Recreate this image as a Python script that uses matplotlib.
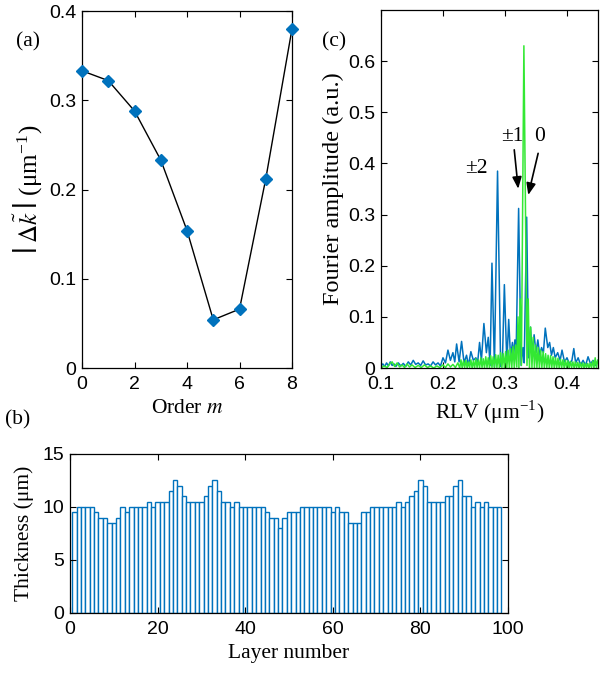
import matplotlib
matplotlib.use("Agg")
import matplotlib.pyplot as plt
import numpy as np

plt.rcParams["font.family"] = ["Liberation Sans", "DejaVu Sans"]
plt.rcParams["mathtext.fontset"] = "stix"

# (a) phase mismatch vs order
orders = [0, 1, 2, 3, 4, 5, 6, 7, 8]
dk = [0.333, 0.322, 0.288, 0.233, 0.154, 0.054, 0.066, 0.212, 0.380]

# (b) layer thickness profile (layers 1..98)
thickness = [
    9.5, 10, 10, 10, 10, 9.5, 9, 9, 8.5, 8.5,
    9, 10, 9.5, 10, 10, 10, 10, 10.5, 10, 10.5,
    10.5, 10.5, 11.5, 12.5, 12, 11, 10.5, 10.5, 10.5, 10.5,
    11, 12, 12.5, 11.5, 10.5, 10.5, 10, 10.5, 10, 10,
    10, 10, 10, 10, 9.5, 9, 9, 8, 9, 9.5,
    9.5, 9.5, 10, 10, 10, 10, 10, 10, 10, 9.5,
    10, 9.5, 9.5, 8.5, 8.5, 8.5, 9.5, 9.5, 10, 10,
    10, 10, 10, 10, 10.5, 10, 10.5, 11, 11.5, 12.5,
    12, 10.5, 10.5, 10.5, 10.5, 11, 11, 12, 12.5, 11,
    11, 10, 10.5, 10, 10.5, 10, 10, 10,
]
layers = list(range(1, len(thickness) + 1))

# (c) Fourier amplitude spectra
rlv_blue = [
    0.100, 0.103, 0.106, 0.109, 0.112, 0.115, 0.118, 0.121, 0.124, 0.128,
    0.132, 0.136, 0.140, 0.144, 0.148, 0.152, 0.156, 0.160, 0.164, 0.168,
    0.172, 0.176, 0.180, 0.184, 0.188, 0.192, 0.196, 0.200, 0.204, 0.208,
    0.212, 0.216, 0.219, 0.222, 0.226, 0.230, 0.234, 0.238, 0.241, 0.245,
    0.249, 0.253, 0.256, 0.259, 0.262, 0.266, 0.270, 0.273, 0.276, 0.279,
    0.283, 0.288, 0.293, 0.296, 0.299, 0.303, 0.306, 0.309, 0.312, 0.314,
    0.316, 0.318, 0.322, 0.326, 0.329, 0.331, 0.335, 0.338, 0.341, 0.344,
    0.347, 0.350, 0.353, 0.356, 0.359, 0.362, 0.365, 0.369, 0.372, 0.375,
    0.378, 0.381, 0.385, 0.389, 0.392, 0.396, 0.400, 0.404, 0.408, 0.411,
    0.414, 0.418, 0.422, 0.426, 0.430, 0.434, 0.438, 0.442, 0.446, 0.450,
]
amp_blue = [
    0.004, 0.008, 0.003, 0.010, 0.004, 0.012, 0.005, 0.008, 0.003, 0.010,
    0.004, 0.009, 0.003, 0.012, 0.006, 0.015, 0.007, 0.010, 0.005, 0.014,
    0.006, 0.008, 0.004, 0.012, 0.006, 0.010, 0.004, 0.020, 0.010, 0.035,
    0.015, 0.030, 0.012, 0.047, 0.012, 0.052, 0.010, 0.025, 0.005, 0.032,
    0.015, 0.020, 0.012, 0.050, 0.015, 0.087, 0.030, 0.060, 0.005, 0.205,
    0.002, 0.385, 0.003, 0.020, 0.163, 0.010, 0.095, 0.020, 0.050, 0.025,
    0.055, 0.030, 0.312, 0.005, 0.040, 0.010, 0.295, 0.020, 0.080, 0.030,
    0.065, 0.030, 0.055, 0.025, 0.040, 0.030, 0.078, 0.040, 0.050, 0.025,
    0.040, 0.020, 0.030, 0.015, 0.035, 0.012, 0.020, 0.008, 0.015, 0.038,
    0.010, 0.020, 0.006, 0.015, 0.005, 0.022, 0.008, 0.015, 0.005, 0.015,
]
rlv_green = [
    0.100, 0.105, 0.110, 0.114, 0.118, 0.122, 0.126, 0.130, 0.134, 0.138,
    0.142, 0.146, 0.150, 0.155, 0.160, 0.165, 0.170, 0.175, 0.180, 0.185,
    0.190, 0.195, 0.200, 0.204, 0.208, 0.212, 0.216, 0.220, 0.224, 0.227,
    0.229, 0.231, 0.233, 0.235, 0.237, 0.239, 0.241, 0.243, 0.245, 0.247,
    0.249, 0.251, 0.253, 0.255, 0.257, 0.259, 0.261, 0.263, 0.265, 0.267,
    0.269, 0.271, 0.273, 0.275, 0.277, 0.279, 0.281, 0.283, 0.285, 0.287,
    0.289, 0.291, 0.293, 0.295, 0.297, 0.299, 0.301, 0.303, 0.305, 0.307,
    0.309, 0.311, 0.313, 0.315, 0.317, 0.319, 0.321, 0.3225, 0.3245, 0.3265,
    0.3305, 0.3355, 0.3375, 0.3395, 0.3415, 0.3435, 0.3455, 0.3475, 0.3495, 0.3515,
    0.3535, 0.3555, 0.3575, 0.3595, 0.3615, 0.3635, 0.3655, 0.3675, 0.3695, 0.3715,
    0.3735, 0.3755, 0.3775, 0.3795, 0.3815, 0.3835, 0.3855, 0.3875, 0.3895, 0.3915,
    0.3935, 0.3955, 0.3975, 0.3995, 0.4015, 0.4035, 0.4055, 0.4075, 0.4095, 0.4115,
    0.4135, 0.4155, 0.4175, 0.4195, 0.4215, 0.4235, 0.4255, 0.4275, 0.4295, 0.4315,
    0.4335, 0.4355, 0.4375, 0.4395, 0.4415, 0.4435, 0.4455, 0.4475, 0.4495,
]
amp_green = [
    0.000, 0.004, 0.001, 0.008, 0.012, 0.003, 0.010, 0.002, 0.006, 0.001,
    0.008, 0.002, 0.006, 0.001, 0.005, 0.001, 0.006, 0.001, 0.004, 0.000,
    0.004, 0.001, 0.006, 0.001, 0.008, 0.002, 0.007, 0.001, 0.010, 0.000,
    0.016, 0.000, 0.014, 0.001, 0.015, 0.000, 0.012, 0.001, 0.016, 0.000,
    0.014, 0.000, 0.018, 0.001, 0.016, 0.000, 0.020, 0.001, 0.018, 0.000,
    0.022, 0.001, 0.020, 0.000, 0.024, 0.001, 0.022, 0.000, 0.026, 0.001,
    0.025, 0.000, 0.030, 0.001, 0.028, 0.000, 0.032, 0.001, 0.035, 0.000,
    0.038, 0.001, 0.042, 0.000, 0.045, 0.002, 0.100, 0.000, 0.135, 0.005,
    0.630, 0.005, 0.135, 0.000, 0.080, 0.001, 0.060, 0.000, 0.045, 0.001,
    0.040, 0.000, 0.035, 0.001, 0.032, 0.000, 0.028, 0.001, 0.025, 0.000,
    0.024, 0.001, 0.022, 0.000, 0.020, 0.001, 0.019, 0.000, 0.017, 0.001,
    0.016, 0.000, 0.015, 0.001, 0.014, 0.000, 0.013, 0.001, 0.012, 0.000,
    0.012, 0.001, 0.011, 0.000, 0.010, 0.001, 0.010, 0.000, 0.009, 0.001,
    0.009, 0.000, 0.010, 0.001, 0.014, 0.000, 0.020, 0.001, 0.015,
]

BLUE = "#0072BD"
GREEN = "#33e833"
serif = ["Liberation Serif", "DejaVu Serif"]
LAB = 15.5
TICK = 14

fig = plt.figure(figsize=(6.14, 6.75), dpi=100)
ax_a = fig.add_axes([0.1336, 0.4548, 0.342, 0.5289])
ax_c = fig.add_axes([0.6205, 0.4548, 0.3534, 0.5304])
ax_b = fig.add_axes([0.114, 0.0919, 0.7134, 0.2356])


def style(ax):
    ax.tick_params(direction="in", top=True, right=True, length=4,
                   width=0.8, labelsize=TICK)
    ax.tick_params(axis="x", pad=6)
    ax.tick_params(axis="y", pad=4)
    for s in ax.spines.values():
        s.set_linewidth(0.9)


# (a)
ax_a.plot(orders, dk, color="black", lw=1.0, zorder=2)
ax_a.plot(orders, dk, ls="none", marker="D", ms=6.5, color=BLUE, zorder=3, clip_on=False)
ax_a.set_xlim(0, 8)
ax_a.set_ylim(0, 0.4)
ax_a.set_xticks([0, 2, 4, 6, 8])
ax_a.set_yticks([0, 0.1, 0.2, 0.3, 0.4])
ax_a.set_yticklabels(["0", "0.1", "0.2", "0.3", "0.4"])
ax_a.set_xlabel(r"Order $m$", family=serif, fontsize=LAB, labelpad=4)
ax_a.set_ylabel(r"$\left|\;\Delta\tilde{k}\;\right|$ (μm$^{\mathregular{-1}}$)",
                family=serif, fontsize=18, labelpad=4)
style(ax_a)

# (c)
ax_c.plot(rlv_blue, amp_blue, color=BLUE, lw=1.1)
ax_c.plot(rlv_green, amp_green, color=GREEN, lw=1.1)
ax_c.set_xlim(0.1, 0.45)
ax_c.set_ylim(0, 0.7)
ax_c.set_xticks([0.1, 0.2, 0.3, 0.4])
ax_c.set_xticklabels(["0.1", "0.2", "0.3", "0.4"])
ax_c.set_yticks([0, 0.1, 0.2, 0.3, 0.4, 0.5, 0.6])
ax_c.set_yticklabels(["0", "0.1", "0.2", "0.3", "0.4", "0.5", "0.6"])
ax_c.set_xlabel(r"RLV (μm$^{\mathregular{-1}}$)", family=serif, fontsize=LAB, labelpad=4)
ax_c.set_ylabel("Fourier amplitude (a.u.)", family=serif, fontsize=17.5, labelpad=3)
ax_c.text(0.2535, 0.391, "±2", family=serif, fontsize=LAB, ha="center", va="center")
ax_c.text(0.3116, 0.453, "±1", family=serif, fontsize=LAB, ha="center", va="center")
ax_c.text(0.3558, 0.453, "0", family=serif, fontsize=LAB, ha="center", va="center")
arrow = dict(arrowstyle="-|>,head_length=0.7,head_width=0.28", color="black", lw=1.2)
ax_c.annotate("", xy=(0.3218, 0.345), xytext=(0.3145, 0.432), arrowprops=arrow)
ax_c.annotate("", xy=(0.3365, 0.333), xytext=(0.3545, 0.425), arrowprops=arrow)
style(ax_c)

# (b)
ax_b.bar(layers, thickness, width=1.0, facecolor="white", edgecolor=BLUE, linewidth=1.0)
ax_b.set_xlim(0, 100)
ax_b.set_ylim(0, 15)
ax_b.set_xticks([0, 20, 40, 60, 80, 100])
ax_b.set_yticks([0, 5, 10, 15])
ax_b.set_xlabel("Layer number", family=serif, fontsize=LAB, labelpad=4)
ax_b.set_ylabel("Thickness (μm)", family=serif, fontsize=LAB, labelpad=6)
style(ax_b)

fig.text(28 / 614, 1 - 42 / 675, "(a)", family=serif, fontsize=LAB, ha="center", va="center")
fig.text(334 / 614, 1 - 42 / 675, "(c)", family=serif, fontsize=LAB, ha="center", va="center")
fig.text(18 / 614, 1 - 420 / 675, "(b)", family=serif, fontsize=LAB, ha="center", va="center")

fig.savefig("out.png", dpi=100)
